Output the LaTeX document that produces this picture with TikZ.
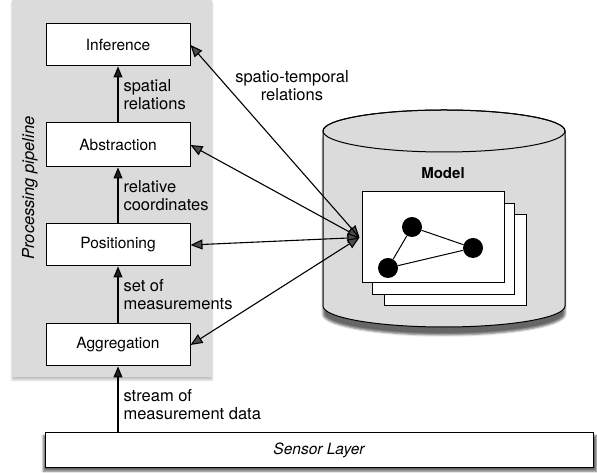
\documentclass[tikz,border=0pt]{standalone}
\usepackage{fontspec}
\setmainfont{TeX Gyre Heros}
\usetikzlibrary{arrows.meta,shadows.blur,positioning}

\begin{document}
\begin{tikzpicture}[x=1pt,y=1pt,
	stage/.style={draw, fill=white, line width=1pt, minimum width=144pt, minimum height=42pt, font=\fontsize{15.5}{18}\selectfont},
	lbl/.style={align=left, inner sep=1pt, font=\fontsize{16.5}{18}\selectfont},
	flow/.style={line width=1.1pt, -{Triangle[length=11pt,width=9pt]}},
	link/.style={line width=1.1pt, {Triangle[length=12pt,width=10pt]}-{Triangle[length=12pt,width=10pt]}},
	sheet/.style={draw, fill=white, line width=1pt, minimum width=142pt, minimum height=91pt},
	dot/.style={circle, fill=black, inner sep=0pt, minimum size=20pt}]
	\useasboundingbox (0,0) rectangle (597,473);

	% Pipeline background
	\fill[gray!28, blur shadow={shadow xshift=0pt, shadow yshift=-3pt, shadow opacity=25}] (12,96) rectangle (212,473);
	\node[rotate=90, font=\fontsize{16.5}{18}\selectfont\itshape] (pipe) at (30,285) {Processing pipeline};

	% Processing stages
	\node[stage] (inf) at (118,428) {Inference};
	\node[stage, minimum height=44pt] (abs) at (118,328) {Abstraction};
	\node[stage] (pos) at (118,228) {Positioning};
	\node[stage] (agg) at (118,128) {Aggregation};
	\node[stage, minimum width=548pt, minimum height=35pt, font=\fontsize{15.5}{18}\selectfont\itshape,
		blur shadow={shadow xshift=1pt, shadow yshift=-3pt, shadow opacity=60, shadow scale=1.01}] (sensor) at (319,22.5) {Sensor Layer};

	% Flow between stages
	\draw[flow] (sensor.north -| agg.south) -- node[lbl, right=4pt, yshift=-5pt] {stream of\\measurement data} (agg.south);
	\draw[flow] (agg) -- node[lbl, right=4pt] {set of\\measurements} (pos);
	\draw[flow] (pos) -- node[lbl, right=4pt] {relative\\coordinates} (abs);
	\draw[flow] (abs) -- node[lbl, right=4pt] {spatial\\relations} (inf);

	% Model store
	\filldraw[fill=gray!28, line width=1pt, blur shadow={shadow xshift=0pt, shadow yshift=-8pt, shadow opacity=60}]
		(323,342) -- (323,167) arc[start angle=180, end angle=360, x radius=121pt, y radius=21pt]
		-- (565,342) arc[start angle=0, end angle=180, x radius=121pt, y radius=21pt] -- cycle;
	\draw[line width=1pt] (444,342) ellipse[x radius=121pt, y radius=21pt];
	\node[font=\fontsize{15}{18}\selectfont\bfseries] (model) at (443,300) {Model};

	% Stacked model sheets
	\node[sheet] (sheet3) at (455.5,213) {};
	\node[sheet] (sheet2) at (443.5,224) {};
	\node[sheet] (sheet1) at (433,235.5) {};
	\coordinate (hub) at ([xshift=-2pt]sheet1.west);

	% Graph in the model
	\node[dot] (n1) at (412,246) {};
	\node[dot] (n2) at (473,225) {};
	\node[dot] (n3) at (388,205) {};
	\draw[line width=1pt] (n1) -- (n2) -- (n3) -- (n1);

	% Links to the model
	\draw[link] (inf.east) -- (hub);
	\draw[link] (abs.east) -- (hub);
	\draw[link] (pos.east) -- (hub);
	\draw[link] (agg.east) -- (hub);
	\node[align=center, font=\fontsize{16.5}{18}\selectfont] (st) at (292,387) {spatio-temporal\\relations};
\end{tikzpicture}
\end{document}
